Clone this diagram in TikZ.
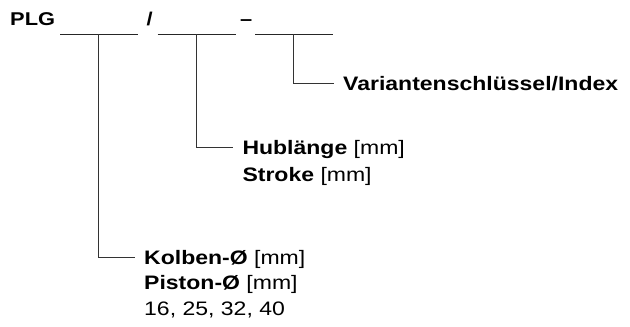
\documentclass[tikz,border=0pt]{standalone}
\usepackage{fontspec}
\setmainfont{Liberation Sans}[FakeStretch=1.18]
\usetikzlibrary{positioning}
\tikzset{code/.style={inner sep=0pt, font=\bfseries\fontsize{18.5}{18.5}\selectfont},
blank/.style={line width=0.9pt, draw=black!85},
stem/.style={line width=0.9pt, draw=black!80},
txt/.style={anchor=west, inner xsep=9pt, inner ysep=0pt, text height=14pt,
text depth=0pt, font=\fontsize{19.5}{19.5}\selectfont},
more/.style={txt, below right=11pt and 0pt of #1.south west}}

\begin{document}
\begin{tikzpicture}[x=1pt,y=-1pt]
  \useasboundingbox (0,0) rectangle (630,327);
  % order code
  \node (plg) [code, anchor=base west] at (10,25) {PLG};
  \node (slash) [code, anchor=base] at (149.7,25) {/};
  \node (dash) [code, anchor=base] at (246.2,25) {–};
  \foreach \x in {60,157.7,255}
    \draw [blank] (\x,34.3) -- ++(78.4,0);
  \coordinate (stem1) at (98.3,34.3);
  \coordinate (stem2) at (196.7,34.3);
  \coordinate (stem3) at (293.3,34.3);

  % labels
  \node (index) [txt] at (334,83.3) {\textbf{Variantenschlüssel/Index}};
  \node (hub) [txt] at (233.3,147) {\textbf{Hublänge} [mm]};
  \node (stroke) [more=hub, yshift=-2pt] {\textbf{Stroke} [mm]};
  \node (kolben) [txt] at (135,257.5) {\textbf{Kolben-Ø} [mm]};
  \node (piston) [more=kolben] {\textbf{Piston-Ø} [mm]};
  \node (sizes) [more=piston] {16, 25, 32, 40};

  \draw [stem] (stem3) |- (index.west);
  \draw [stem] (stem2) |- (hub.west);
  \draw [stem] (stem1) |- (kolben.west);
\end{tikzpicture}
\end{document}
